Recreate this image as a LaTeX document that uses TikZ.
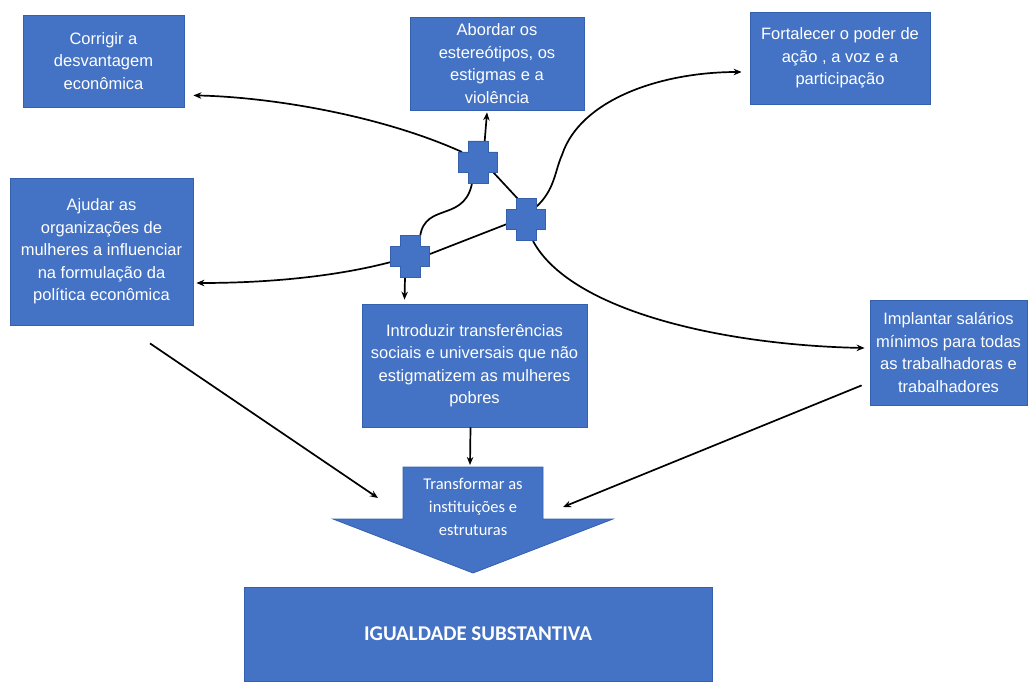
\documentclass[tikz,border=0pt]{standalone}
\usepackage{fontspec}
\setmainfont{Liberation Sans}
\newfontfamily\calib{Carlito}
\usetikzlibrary{arrows.meta,calc}
\definecolor{boxblue}{HTML}{4472C4}
\definecolor{boxedge}{HTML}{3560AE}
\newcommand\drawplus[1]{\filldraw[crossfill] ([shift={(-19.5,-10)}]#1.center) -- ([shift={(-10,-10)}]#1.center) -- ([shift={(-10,-21)}]#1.center) -- ([shift={(10,-21)}]#1.center) -- ([shift={(10,-10)}]#1.center) -- ([shift={(19.5,-10)}]#1.center) -- ([shift={(19.5,10)}]#1.center) -- ([shift={(10,10)}]#1.center) -- ([shift={(10,21)}]#1.center) -- ([shift={(-10,21)}]#1.center) -- ([shift={(-10,10)}]#1.center) -- ([shift={(-19.5,10)}]#1.center) -- cycle;}
\begin{document}
\begin{tikzpicture}[x=1pt,y=-1pt,
 box/.style={fill=boxblue,draw=boxedge,line width=0.8pt,text=white,align=center,font=\fontsize{16.5}{22.5}\selectfont,inner sep=0},
 conn/.style={line width=1.7pt,-{Stealth[length=8pt,width=6.5pt]}},
 link/.style={line width=1.7pt},
 crossnode/.style={minimum width=39pt,minimum height=42pt,inner sep=0},
 crossfill/.style={fill=boxblue,draw=boxedge,line width=0.8pt}]
\useasboundingbox (0,0) rectangle (1028,682);

\node[box,minimum width=161pt,minimum height=92pt] (corr) at (103.5,61) {Corrigir a\\desvantagem\\econômica};
\node[box,minimum width=174pt,minimum height=93pt] (abord) at (497,63.5) {Abordar os\\estereótipos, os\\estigmas e a\\violência};
\node[box,minimum width=180pt,minimum height=92pt] (fort) at (840,58) {Fortalecer o poder de\\ação , a voz e a\\participação};
\node[box,minimum width=183pt,minimum height=147pt] (ajud) at (101.5,251.5) {Ajudar as\\organizações de\\mulheres a influenciar\\na formulação da\\política econômica};
\node[box,minimum width=225pt,minimum height=123pt] (intro) at (474.5,365.5) {Introduzir transferências\\sociais e universais que não\\estigmatizem as mulheres\\pobres};
\node[box,minimum width=157pt,minimum height=105pt] (impl) at (948.5,352.5) {Implantar salários\\mínimos para todas\\as trabalhadoras e\\trabalhadores};
\node[box,minimum width=468pt,minimum height=94pt,font=\calib\bfseries\fontsize{21}{25}\selectfont] (igual) at (478,634) {IGUALDADE SUBSTANTIVA};

\filldraw[crossfill] (403,467) -- (543,467) -- (543,519) -- (613,519) -- (473,573) -- (333,519) -- (403,519) -- cycle;
\node[text=white,align=center,inner sep=0,font=\calib\fontsize{16.5}{23}\selectfont] (trans) at (473,507) {Transformar as\\instituições e\\estruturas};

\node[crossnode] (c1) at (478,162) {};
\node[crossnode] (c2) at (526,219) {};
\node[crossnode] (c3) at (410,256) {};

% connectors
\draw[conn] ([shift={(-16,-10)}]c1.center) .. controls (380,115) and (270,97) .. ([shift={(9,-12)}]corr.south east);
\draw[conn] ([shift={(5,0)}]c1.center) -- ([shift={(-10,2)}]abord.south);
\draw[link] ([shift={(-5,15)}]c1.center) .. controls (468,225) and (425,200) .. ([shift={(10,-19)}]c3.center);
\draw[link] ([shift={(15,10)}]c1.center) -- ([shift={(-8,-20)}]c2.center);
\draw[conn] ([shift={(10,-12)}]c2.center) .. controls (555,190) and (555,170) .. (562,155) .. controls (580,100) and (660,72) .. ([shift={(-8,14)}]fort.west);
\draw[conn] ([shift={(7,22)}]c2.center) .. controls (570,310) and (720,345) .. ([shift={(-5,-4.5)}]impl.west);
\draw[link] ([shift={(-19,5)}]c2.center) -- ([shift={(20,-2)}]c3.center);
\draw[conn] ([shift={(-19,6)}]c3.center) .. controls (330,278) and (260,283) .. ([shift={(3,31.5)}]ajud.east);
\draw[conn] ([shift={(-5,21)}]c3.center) -- ([shift={(-70,-4)}]intro.north);
\draw[conn] ([xshift=-4pt]intro.south) -- ([shift={(-3,-42)}]trans.center);
\draw[conn] ([shift={(48.5,18)}]ajud.south) -- ([shift={(-95,-9)}]trans.center);
\draw[conn] ([shift={(-8,-20)}]impl.south west) -- ([shift={(90,0)}]trans.center);

\drawplus{c1}
\drawplus{c2}
\drawplus{c3}
\end{tikzpicture}
\end{document}
